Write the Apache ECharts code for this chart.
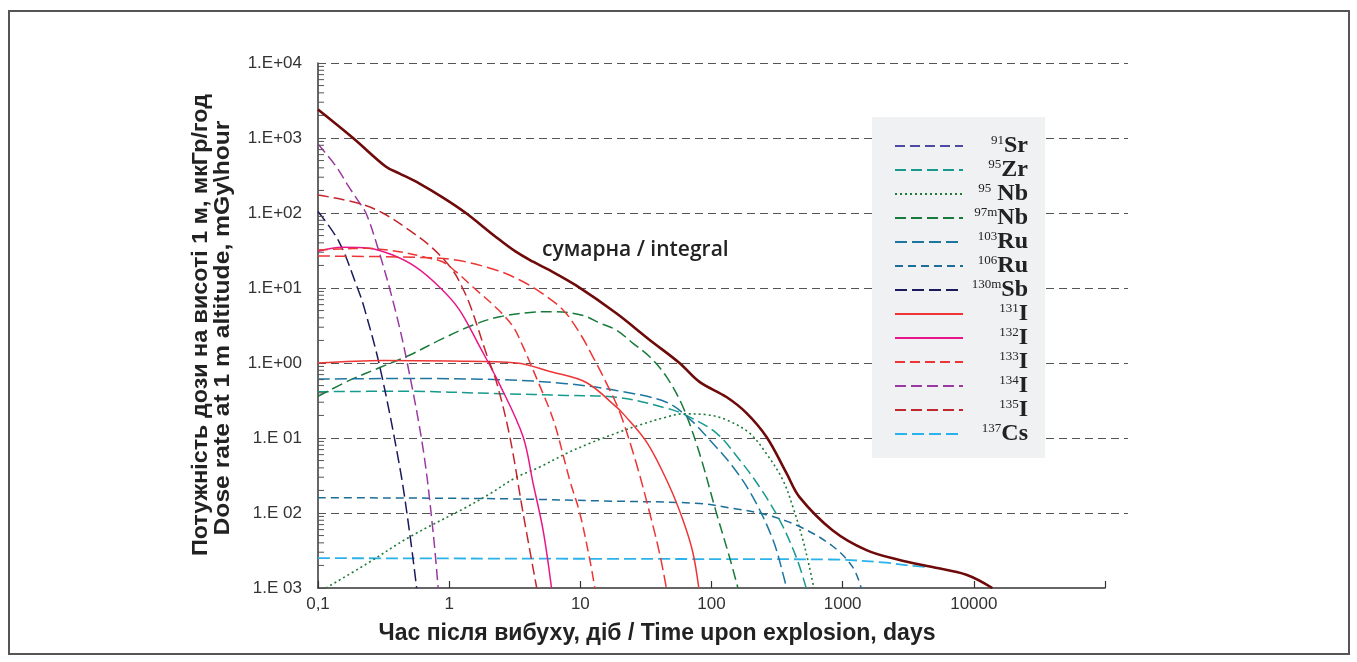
<!DOCTYPE html>
<html><head><meta charset="utf-8">
<script src="https://cdn.jsdelivr.net/npm/echarts@6/dist/echarts.min.js"></script>
<style>html,body{margin:0;padding:0;background:#fff}#c{width:1357px;height:662px}</style>
</head><body><div id="c"></div>
<script>
// ---- tick labels ----
const xTickLabels = ['0,1', '1', '10', '100', '1000', '10000', ''];          // 1e-1 .. 1e5
const yTickLabels = ['1.E 03', '1.E 02', '1.E 01', '1.E+00', '1.E+01', '1.E+02', '1.E+03', '1.E+04']; // 1e-3 .. 1e4

// ---- legend ----
const legendNames = ['91Sr', '95Zr', '95Nb', '97mNb', '103Ru', '106Ru', '130mSb', '131I', '132I', '133I', '134I', '135I', '137Cs'];
const legendMass  = ['91', '95', '95', '97m', '103', '106', '130m', '131', '132', '133', '134', '135', '137'];
const legendElem  = ['Sr', 'Zr', ' Nb', 'Nb', 'Ru', 'Ru', 'Sb', 'I', 'I', 'I', 'I', 'I', 'Cs'];

// ---- series data: [time (days), dose rate] ----
const integral = [[0.1,2400],[0.185,1000],[0.33,414],[0.416,338],[0.59,249],[0.916,157],[1.34,100],[2.27,48],[3.22,30.5],[4.36,22.4],[5.78,17.4],[9.22,10.9],[18.8,4.6],[33.8,2.03],[57,1.0],[81,0.56],[130,0.352],[185,0.215],[263,0.103],[373,0.034],[469,0.0163],[836,0.0059],[1518,0.0032],[2710,0.00236],[4830,0.0019],[8770,0.0015],[13840,0.001]];
const sr91 = [];
const zr95 = [[0.1,0.414],[0.42,0.42],[2.43,0.39],[7.8,0.37],[18.8,0.35],[45.3,0.25],[64.3,0.2],[109,0.116],[164,0.051],[232,0.0224],[330,0.0081],[442,0.0026],[527,0.001]];
const nb95 = [[0.115,0.001],[0.235,0.0021],[0.5,0.0048],[1.36,0.012],[2.04,0.018],[3.26,0.03],[4.9,0.041],[7.8,0.062],[11.8,0.085],[18.8,0.116],[28.3,0.149],[45.3,0.19],[60.5,0.21],[91,0.205],[130,0.174],[195,0.116],[261,0.0625],[350,0.0275],[417,0.0121],[497,0.0044],[558,0.0019],[603,0.001]];
const nb97m = [[0.1,0.36],[0.175,0.59],[0.296,0.87],[0.502,1.28],[0.85,2.03],[1.52,3.21],[2.43,4.14],[4.36,4.74],[6.2,4.83],[10.5,4.3],[14.1,3.4],[18.8,2.75],[25.2,1.83],[33.8,1.21],[45.3,0.657],[60.5,0.261],[81,0.0625],[109,0.01],[137,0.0026],[159,0.001]];
const ru103 = [[0.1,0.61],[0.42,0.62],[2.43,0.6],[7.8,0.53],[18.8,0.43],[45.3,0.3],[68,0.18],[97,0.094],[146,0.041],[206,0.0165],[294,0.0044],[360,0.0013],[371,0.001]];
const ru106 = [[0.1,0.016],[2.43,0.0155],[14.1,0.0145],[81,0.0134],[146,0.0115],[261,0.0095],[469,0.0066],[841,0.0036],[1193,0.0019],[1384,0.001]];
const sb130m = [[0.1,105],[0.145,41],[0.2,10],[0.224,5.6],[0.296,0.89],[0.42,0.041],[0.5,0.0054],[0.565,0.001]];
const i131 = [[0.1,1.0],[0.314,1.08],[1.01,1.06],[3.26,1.0],[5.85,0.77],[11.1,0.55],[18.8,0.26],[21.1,0.213],[32.5,0.085],[48,0.0224],[60.5,0.0081],[72,0.003],[80,0.001]];
const i132 = [[0.1,31],[0.154,35],[0.246,34],[0.371,27.5],[0.558,19],[0.839,10.4],[1.19,5.2],[1.71,1.65],[2.45,0.5],[3.66,0.104],[4.36,0.025],[5.2,0.0059],[6.03,0.001]];
const i133 = [[0.1,32],[0.145,33],[0.232,33.8],[0.416,30.5],[0.664,25.6],[0.89,22.4],[1.125,16.5],[1.51,10.4],[2.35,5.2],[3.07,3.05],[3.66,1.65],[4.36,0.81],[5.2,0.39],[5.85,0.236],[6.58,0.128],[8.3,0.0275],[9.9,0.01],[11.8,0.0024],[12.9,0.001]];
const i133b = [[0.1,26.7],[0.558,25.6],[1.125,23.6],[2.27,17.4],[3.45,12.8],[4.91,8.9],[7.38,5.1],[9.9,2.5],[12.5,1.2],[15.8,0.54],[20,0.22],[26.7,0.046],[33.8,0.01],[40.2,0.0029],[45.3,0.001]];
const i134 = [[0.1,830],[0.137,420],[0.17,230],[0.2,150],[0.232,100],[0.285,35],[0.379,6],[0.474,1.1],[0.634,0.07],[0.755,0.0055],[0.824,0.001]];
const i135 = [[0.1,174],[0.206,134],[0.311,100],[0.496,59],[0.747,34],[1.06,17.4],[1.265,10],[1.46,5.6],[1.93,1.3],[2.3,0.55],[2.9,0.104],[3.66,0.01],[4.65,0.001]];
const cs137 = [[0.1,0.0025],[100,0.00243],[800,0.0024],[2000,0.0022],[3200,0.002],[4500,0.0019]];

const minorMult = [2,3,4,5,6,7,8,9];

const SANS = "'Liberation Sans',Arial,sans-serif";

function line(name, data, color, type, width, z) {
  return {
    type: 'line', name: name, data: data, xAxisIndex: 0, yAxisIndex: 0,
    symbol: 'none', showSymbol: false, smooth: 0.35, silent: true, animation: false,
    lineStyle: { color: color, type: type, width: width },
    itemStyle: { color: color }, z: z || 3
  };
}

const minorTicks = [];
for (let e = -3; e < 4; e++) minorMult.forEach(m => minorTicks.push([0.1, m * Math.pow(10, e)]));

const chart = echarts.init(document.getElementById('c'), null, { renderer: 'canvas' });
chart.setOption({
  animation: false,
  backgroundColor: '#fff',
  grid: [
    { left: 318, top: 63, right: 252, bottom: 74, containLabel: false },
    { left: 318, top: 63, right: 229, bottom: 74, containLabel: false }
  ],
  xAxis: [
    { gridIndex: 0, type: 'log', logBase: 10, min: 0.1, max: 100000,
      axisLine: { show: true, lineStyle: { color: '#333', width: 1.5 } },
      axisTick: { show: true, inside: true, length: 7, lineStyle: { color: '#333', width: 1.2 } },
      splitLine: { show: false },
      axisLabel: { color: '#333', fontSize: 17, fontFamily: SANS, margin: 8,
        formatter: v => xTickLabels[Math.round(Math.log10(v)) + 1] } },
    { gridIndex: 1, type: 'log', min: 0.1, max: 100000, show: false }
  ],
  yAxis: [
    { gridIndex: 0, type: 'log', logBase: 10, min: 0.001, max: 10000,
      axisLine: { show: true, lineStyle: { color: '#333', width: 1.5 } },
      axisTick: { show: true, inside: true, length: 8, lineStyle: { color: '#555', width: 1 } },
      splitLine: { show: false },
      axisLabel: { color: '#333', fontSize: 17, fontFamily: SANS, margin: 16,
        formatter: v => yTickLabels[Math.round(Math.log10(v)) + 3] } },
    { gridIndex: 1, type: 'log', logBase: 10, min: 0.001, max: 10000,
      axisLine: { show: false }, axisTick: { show: false }, axisLabel: { show: false },
      splitLine: { show: true, showMinLine: false, lineStyle: { color: '#555', type: [8, 5], width: 1.2 } } }
  ],
  legend: {
    data: legendNames,
    orient: 'vertical', left: 872, top: 117,
    padding: [17, 17, 12, 22],
    backgroundColor: '#f0f1f3',
    itemWidth: 68, itemHeight: 14, itemGap: 0,
    selectedMode: false,
    itemStyle: { opacity: 0 },
    lineStyle: { width: 2 },
    textStyle: { width: 60, color: '#222',
      rich: {
        s: { fontSize: 13, fontFamily: "'Liberation Serif',serif", color: '#222', lineHeight: 13, verticalAlign: 'top', align: 'right' },
        e: { fontSize: 24, fontWeight: 'bold', fontFamily: "'Liberation Serif',serif", color: '#222', lineHeight: 24, align: 'right' }
      } },
    formatter: name => {
      const i = legendNames.indexOf(name);
      return '{s|' + legendMass[i] + '}{e|' + legendElem[i] + '}';
    }
  },
  graphic: [
    { type: 'rect', silent: true, shape: { x: 9, y: 11, width: 1340, height: 643 },
      style: { fill: 'none', stroke: '#555', lineWidth: 2 } },
    { type: 'text', silent: true, x: 201, y: 325, rotation: Math.PI / 2, scaleX: 1.06,
      style: { text: 'Потужність дози на висоті 1 м, мкГр/год', fill: '#222',
        font: "bold 22px 'Liberation Sans',sans-serif", align: 'center', verticalAlign: 'middle' } },
    { type: 'text', silent: true, x: 223, y: 328, rotation: Math.PI / 2, scaleX: 1.12,
      style: { text: 'Dose rate at 1 m altitude, mGy\\hour', fill: '#222',
        font: "bold 22px 'Liberation Sans',sans-serif", align: 'center', verticalAlign: 'middle' } },
    { type: 'text', silent: true, x: 657, y: 634,
      style: { text: 'Час після вибуху, діб / Time upon explosion, days', fill: '#222',
        font: "bold 23px 'Liberation Sans',sans-serif", align: 'center', verticalAlign: 'middle' } },
    { type: 'text', silent: true, x: 542, y: 250,
      style: { text: 'сумарна / integral', fill: '#222',
        font: "600 21px 'Open Sans',sans-serif", align: 'left', verticalAlign: 'middle' } }
  ],
  series: [
    { type: 'custom', xAxisIndex: 0, yAxisIndex: 0, data: minorTicks, silent: true, z: 4,
      renderItem: (params, api) => {
        const p = api.coord([api.value(0), api.value(1)]);
        return { type: 'line', shape: { x1: p[0], y1: p[1], x2: p[0] + 6, y2: p[1] },
          style: { stroke: '#555', lineWidth: 1 } };
      } },
    line('91Sr', sr91, '#4b4ba3', [10, 5], 1.5),
    line('95Zr', zr95, '#169a8c', [11, 5], 1.5),
    line('95Nb', nb95, '#1f7a3a', [2, 3], 1.6),
    line('97mNb', nb97m, '#187a3a', [11, 5], 1.5),
    line('103Ru', ru103, '#1e76a0', [12, 5], 1.5),
    line('106Ru', ru106, '#1c6e98', [8, 5], 1.5),
    line('130mSb', sb130m, '#1a1a5c', [12, 5], 1.5),
    line('131I', i131, '#ee3535', 'solid', 1.5),
    line('132I', i132, '#e8168a', 'solid', 1.5),
    line('133I', i133, '#ee3535', [10, 5], 1.5),
    line('133I', i133b, '#ee3535', [12, 5], 1.5),
    line('134I', i134, '#9a3aa0', [11, 5], 1.5),
    line('135I', i135, '#c4262e', [11, 5], 1.5),
    line('137Cs', cs137, '#2cb2ea', [12, 5], 1.8, 2),
    line('integral', integral, '#6e0a0a', 'solid', 2.6, 5)
  ]
});
</script>
</body></html>
